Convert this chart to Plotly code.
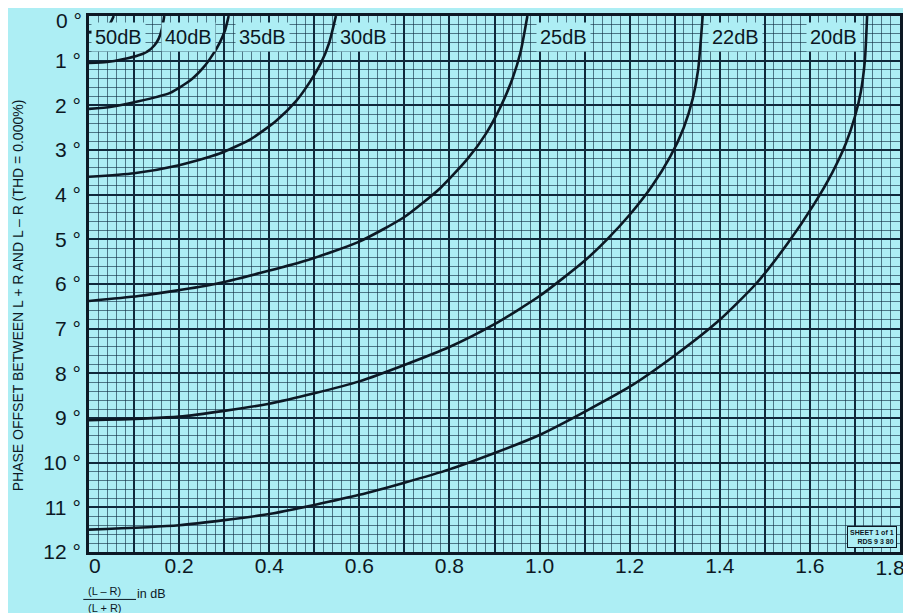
import plotly.graph_objects as go

# ---------------- data ----------------
x_tick_vals = [0, 0.2, 0.4, 0.6, 0.8, 1.0, 1.2, 1.4, 1.6, 1.8]
x_tick_labels = ["\u00a0\u00a00", "0.2", "0.4", "0.6", "0.8", "1.0", "1.2", "1.4", "1.6", "1.8"]
y_tick_vals = [0, 1, 2, 3, 4, 5, 6, 7, 8, 9, 10, 11, 12]
y_tick_labels = ["0 °", "1 °", "2 °", "3 °", "4 °", "5 °", "6 °", "7 °", "8 °",
                 "9 °", "10 °", "11 °", "12 °"]

sep_labels = ["50dB", "40dB", "35dB", "30dB", "25dB", "22dB", "20dB"]

c50_x = [0, 0.02, 0.035, 0.047, 0.055]
c50_y = [0.36, 0.33, 0.26, 0.16, 0.0]

c40_x = [0, 0.04, 0.075, 0.11, 0.13, 0.145, 0.155, 0.162, 0.167]
c40_y = [1.05, 1.03, 0.97, 0.88, 0.79, 0.66, 0.50, 0.28, 0.0]

c35_x = [0, 0.05, 0.11, 0.18, 0.225, 0.255, 0.275, 0.29, 0.302, 0.31]
c35_y = [2.08, 2.03, 1.91, 1.72, 1.44, 1.14, 0.86, 0.60, 0.32, 0.0]

c30_x = [0, 0.1, 0.2, 0.29, 0.36, 0.415, 0.46, 0.49, 0.515, 0.533, 0.548]
c30_y = [3.60, 3.52, 3.34, 3.08, 2.75, 2.35, 1.90, 1.48, 1.05, 0.60, 0.0]

c25_x = [0, 0.11, 0.28, 0.48, 0.6, 0.7, 0.78, 0.84, 0.88, 0.915, 0.94, 0.958, 0.973]
c25_y = [6.38, 6.27, 6.00, 5.48, 5.05, 4.50, 3.85, 3.20, 2.65, 2.00, 1.40, 0.80, 0.0]

c22_x = [0, 0.2, 0.4, 0.6, 0.8, 0.9, 1.0, 1.1, 1.15, 1.2, 1.25, 1.29, 1.32, 1.34,
         1.352, 1.362]
c22_y = [9.05, 8.97, 8.68, 8.18, 7.41, 6.90, 6.27, 5.48, 5.00, 4.45, 3.80, 3.15,
         2.50, 1.85, 1.20, 0.0]

c20_x = [0, 0.2, 0.4, 0.6, 0.8, 1.0, 1.2, 1.3, 1.4, 1.48, 1.55, 1.61, 1.65, 1.68,
         1.70, 1.713, 1.722, 1.727]
c20_y = [11.5, 11.4, 11.15, 10.72, 10.15, 9.38, 8.30, 7.60, 6.80, 6.00, 5.10, 4.20,
         3.50, 2.85, 2.25, 1.70, 1.00, 0.0]

curves_x = [c50_x, c40_x, c35_x, c30_x, c25_x, c22_x, c20_x]
curves_y = [c50_y, c40_y, c35_y, c30_y, c25_y, c22_y, c20_y]

# label placement relative to each curve's top end (pixels)
label_xshift = [5, 24, 34, 28, 36, 33, -34]
label_yshift = -21

# ---------------- style ----------------
BG = "#adeef4"
INK = "#0c1824"
GRID_MAJOR = "#10283a"
GRID_MINOR = "rgba(16,45,66,0.62)"
FONT = "Liberation Sans, Arial, Helvetica, sans-serif"
TICKFONT = dict(family=FONT, size=21, color=INK)

fig = go.Figure()

for name, xs, ys in zip(sep_labels, curves_x, curves_y):
    fig.add_trace(go.Scatter(
        x=xs, y=ys, mode="lines", name=name, showlegend=False,
        line=dict(color=INK, width=2.6, shape="spline", smoothing=0.6),
        hoverinfo="skip",
    ))

# empty traces on overlay axes (0.1 grid lines, edge tick labels)
fig.add_trace(go.Scatter(x=[], y=[], xaxis="x2", showlegend=False, hoverinfo="skip"))
fig.add_trace(go.Scatter(x=[], y=[], xaxis="x3", showlegend=False, hoverinfo="skip"))
fig.add_trace(go.Scatter(x=[], y=[], yaxis="y2", showlegend=False, hoverinfo="skip"))

for name, xs, sh in zip(sep_labels, curves_x, label_xshift):
    fig.add_annotation(
        x=xs[-1], y=0, xref="x", yref="y", text=name, showarrow=False,
        xanchor="center", yanchor="middle", xshift=sh, yshift=label_yshift,
        font=dict(family=FONT, size=20, color=INK),
        bgcolor=BG, borderpad=3,
    )

# axis titles
fig.add_annotation(
    x=0, y=0.479, xref="paper", yref="paper", xshift=-71,
    text="PHASE OFFSET BETWEEN L + R AND L \u2013 R (THD = 0.000%)",
    textangle=-90, showarrow=False, xanchor="center", yanchor="middle",
    font=dict(family=FONT, size=14, color=INK),
)
fig.add_annotation(
    x=0, y=0, xref="paper", yref="paper", xshift=-3, yshift=-39,
    text="(L \u2013 R)", showarrow=False, xanchor="left", yanchor="middle",
    font=dict(family=FONT, size=11, color=INK),
)
fig.add_annotation(
    x=0, y=0, xref="paper", yref="paper", xshift=-3, yshift=-56,
    text="(L + R)", showarrow=False, xanchor="left", yanchor="middle",
    font=dict(family=FONT, size=11, color=INK),
)
fig.add_annotation(
    x=0, y=0, xref="paper", yref="paper", xshift=46, yshift=-42,
    text="in dB", showarrow=False, xanchor="left", yanchor="middle",
    font=dict(family=FONT, size=12.5, color=INK),
)
fig.add_shape(type="line", xref="paper", yref="paper",
              x0=-0.007, x1=0.058, y0=-0.0885, y1=-0.0885,
              line=dict(color=INK, width=1))

fig.add_annotation(
    x=1, y=0, xref="paper", yref="paper", xshift=-3, yshift=4,
    text="<b>SHEET 1 of 1</b><br><b>RDS 9 3 80</b>", showarrow=False,
    xanchor="right", yanchor="bottom", align="right",
    font=dict(family=FONT, size=7, color=INK),
    bgcolor=BG, bordercolor=INK, borderwidth=1, borderpad=2,
)

# the page body adds an 8px offset, so the figure is 8px smaller and margins shift
fig.update_layout(
    width=903, height=605,
    margin=dict(l=81, r=11, t=8, b=61, autoexpand=False),
    paper_bgcolor=BG, plot_bgcolor=BG,
    showlegend=False,
    xaxis=dict(
        range=[0, 1.8], tickmode="array",
        tickvals=x_tick_vals[:-1], ticktext=x_tick_labels[:-1],
        showgrid=True, gridcolor=GRID_MAJOR, gridwidth=2.2, zeroline=False,
        showline=True, linecolor=INK, linewidth=3, mirror=True, automargin=False,
        ticks="", ticklabelstandoff=-7, ticklabeloverflow="allow",
        tickfont=TICKFONT,
        minor=dict(tick0=0, dtick=0.02, showgrid=True, gridcolor=GRID_MINOR, gridwidth=1),
    ),
    xaxis2=dict(
        overlaying="x", anchor="y", range=[0, 1.8], tick0=0, dtick=0.1,
        showgrid=True, gridcolor=GRID_MAJOR, gridwidth=1.5, zeroline=False,
        showticklabels=False, showline=False, ticks="", automargin=False,
    ),
    xaxis3=dict(
        overlaying="x", anchor="y", side="bottom", range=[0, 1.8], tickmode="array",
        tickvals=x_tick_vals[-1:], ticktext=x_tick_labels[-1:],
        showgrid=False, zeroline=False, showline=False, ticks="", automargin=False,
        ticklabelstandoff=1, ticklabelshift=-10, ticklabeloverflow="allow",
        tickfont=TICKFONT,
    ),
    yaxis=dict(
        range=[12, 0], tickmode="array",
        tickvals=y_tick_vals[1:], ticktext=y_tick_labels[1:],
        showgrid=True, gridcolor=GRID_MAJOR, gridwidth=2.2, zeroline=False,
        showline=True, linecolor=INK, linewidth=3, mirror=True, automargin=False,
        ticks="", ticklabelstandoff=1, ticklabeloverflow="allow",
        tickfont=TICKFONT,
        minor=dict(tick0=0, dtick=0.2, showgrid=True, gridcolor=GRID_MINOR, gridwidth=1),
    ),
    yaxis2=dict(
        overlaying="y", anchor="x", side="left", range=[12, 0], tickmode="array",
        tickvals=y_tick_vals[:1], ticktext=y_tick_labels[:1],
        showgrid=False, zeroline=False, showline=False, ticks="", automargin=False,
        ticklabelstandoff=6, ticklabelshift=-5, ticklabeloverflow="allow",
        tickfont=TICKFONT,
    ),
)

fig.write_html("out.html")
